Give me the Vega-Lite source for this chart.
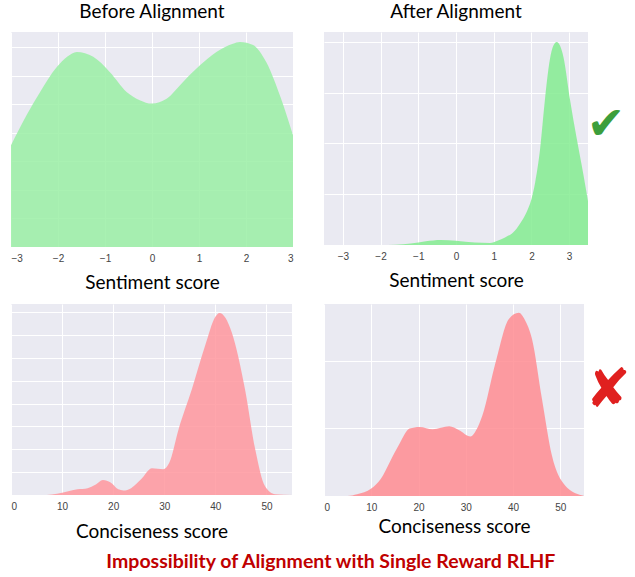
{
  "$schema": "https://vega.github.io/schema/vega-lite/v6.json",
  "padding": {"left": 11, "top": 3, "right": 5, "bottom": 5},
  "datasets": {
    "tl": [
      {"x": -3, "y": 3.57}, {"x": -2.67, "y": 4.62}, {"x": -2.38, "y": 5.44}, {"x": -2.03, "y": 6.3},
      {"x": -1.8, "y": 6.68}, {"x": -1.6, "y": 6.84}, {"x": -1.25, "y": 6.67}, {"x": -0.9, "y": 6.14},
      {"x": -0.54, "y": 5.44}, {"x": -0.26, "y": 5.15}, {"x": 0, "y": 5.03}, {"x": 0.31, "y": 5.2},
      {"x": 0.66, "y": 5.79}, {"x": 1.02, "y": 6.37}, {"x": 1.37, "y": 6.84}, {"x": 1.72, "y": 7.13},
      {"x": 1.87, "y": 7.19}, {"x": 2.15, "y": 7.08}, {"x": 2.43, "y": 6.49}, {"x": 2.72, "y": 5.32},
      {"x": 3, "y": 3.92}
    ],
    "tr": [
      {"x": -3.5, "y": 0}, {"x": -2, "y": 0}, {"x": -1.6, "y": 0.01}, {"x": -1.2, "y": 0.06},
      {"x": -0.8, "y": 0.15}, {"x": -0.4, "y": 0.2}, {"x": 0, "y": 0.17}, {"x": 0.5, "y": 0.1},
      {"x": 0.9, "y": 0.08}, {"x": 1.1, "y": 0.17}, {"x": 1.3, "y": 0.3}, {"x": 1.52, "y": 0.5},
      {"x": 1.7, "y": 0.85}, {"x": 1.87, "y": 1.29}, {"x": 2.0, "y": 1.8}, {"x": 2.1, "y": 2.47},
      {"x": 2.23, "y": 3.78}, {"x": 2.36, "y": 5.75}, {"x": 2.49, "y": 7.32}, {"x": 2.58, "y": 7.85},
      {"x": 2.67, "y": 8.0}, {"x": 2.76, "y": 7.85}, {"x": 2.85, "y": 7.4}, {"x": 3.02, "y": 5.75},
      {"x": 3.2, "y": 4.2}, {"x": 3.38, "y": 2.76}, {"x": 3.5, "y": 1.73}
    ],
    "bl": [
      {"x": 0, "y": 0}, {"x": 7, "y": 0}, {"x": 9, "y": 0.05}, {"x": 11, "y": 0.15}, {"x": 13, "y": 0.25},
      {"x": 15, "y": 0.3}, {"x": 16.5, "y": 0.45}, {"x": 18, "y": 0.66}, {"x": 19.5, "y": 0.55},
      {"x": 21, "y": 0.25}, {"x": 22, "y": 0.2}, {"x": 23.5, "y": 0.3}, {"x": 25.5, "y": 0.7},
      {"x": 27.6, "y": 1.17}, {"x": 29.8, "y": 1.13}, {"x": 31, "y": 1.42}, {"x": 32.8, "y": 2.88},
      {"x": 35.4, "y": 4.63}, {"x": 38, "y": 6.54}, {"x": 40, "y": 7.8}, {"x": 40.8, "y": 7.97},
      {"x": 42, "y": 7.75}, {"x": 43.2, "y": 7.12}, {"x": 45.8, "y": 4.63}, {"x": 47.8, "y": 2.0},
      {"x": 49.7, "y": 0.39}, {"x": 51.7, "y": 0.03}, {"x": 55, "y": 0}
    ],
    "br": [
      {"x": 0, "y": 0}, {"x": 5, "y": 0}, {"x": 7, "y": 0.05}, {"x": 10, "y": 0.22}, {"x": 12, "y": 0.5},
      {"x": 13.9, "y": 1.0}, {"x": 16, "y": 1.55}, {"x": 18.1, "y": 1.99}, {"x": 20.2, "y": 2.04},
      {"x": 23, "y": 1.97}, {"x": 26.5, "y": 2.06}, {"x": 28.5, "y": 1.95}, {"x": 31, "y": 1.76},
      {"x": 32.2, "y": 1.95}, {"x": 33.5, "y": 2.38}, {"x": 36.3, "y": 3.95}, {"x": 39.1, "y": 5.23},
      {"x": 41.2, "y": 5.41}, {"x": 42.5, "y": 5.2}, {"x": 44, "y": 4.64}, {"x": 46.1, "y": 2.87},
      {"x": 48.2, "y": 1.2}, {"x": 51, "y": 0.31}, {"x": 54.5, "y": 0.02}, {"x": 55, "y": 0}
    ],
    "check": [{"x": 3.98, "y": 4.72, "symbol": "✔"}],
    "cross": [{"x": 60.1, "y": 3.1, "symbol": "✘"}]
  },
  "title": {
    "text": "Impossibility of Alignment with Single Reward RLHF",
    "orient": "bottom",
    "anchor": "middle",
    "font": "Lato",
    "fontSize": 19.5,
    "fontWeight": "bold",
    "color": "#C00000",
    "offset": 12,
    "dx": 10
  },
  "vconcat": [
    {
      "hconcat": [
        {
          "width": 282,
          "height": 215,
          "title": {"text": "Before Alignment"},
          "data": {"name": "tl"},
          "mark": {"type": "area", "interpolate": "monotone", "fill": "#9AEFA4", "fillOpacity": 0.85},
          "encoding": {
            "x": {"field": "x", "type": "quantitative", "scale": {"domain": [-3, 3], "nice": false},
                  "axis": {"values": [-3, -2, -1, 0, 1, 2, 3], "title": "Sentiment score"}},
            "y": {"field": "y", "type": "quantitative", "scale": {"domain": [0, 7.54], "nice": false},
                  "axis": {"values": [0, 1, 2, 3, 4, 5, 6, 7], "labels": false, "title": null}}
          }
        },
        {
          "width": 264,
          "height": 213,
          "title": {"text": "After Alignment"},
          "layer": [
            {
              "data": {"name": "tr"},
              "mark": {"type": "area", "interpolate": "monotone", "fill": "#84EC90", "fillOpacity": 0.85},
              "encoding": {
                "x": {"field": "x", "type": "quantitative", "scale": {"domain": [-3.5, 3.5], "nice": false},
                      "axis": {"values": [-3, -2, -1, 0, 1, 2, 3], "title": "Sentiment score"}},
                "y": {"field": "y", "type": "quantitative", "scale": {"domain": [0, 8.39], "nice": false},
                      "axis": {"values": [0, 1, 2, 3, 4, 5, 6, 7, 8], "labels": false, "title": null}}
              }
            },
            {
              "data": {"name": "check"},
              "mark": {"type": "text", "font": "DejaVu Sans", "fontSize": 46, "color": "#3C9E3C", "baseline": "middle", "align": "center"},
              "encoding": {
                "x": {"field": "x", "type": "quantitative"},
                "y": {"field": "y", "type": "quantitative"},
                "text": {"field": "symbol"}
              }
            }
          ]
        }
      ],
      "spacing": 31,
      "bounds": "flush"
    },
    {
      "hconcat": [
        {
          "width": 281,
          "height": 191,
          "data": {"name": "bl"},
          "mark": {"type": "area", "interpolate": "monotone", "fill": "#FF969D", "fillOpacity": 0.85},
          "encoding": {
            "x": {"field": "x", "type": "quantitative", "scale": {"domain": [0, 55], "nice": false},
                  "axis": {"values": [0, 10, 20, 30, 40, 50], "title": "Conciseness score", "titlePadding": 11}},
            "y": {"field": "y", "type": "quantitative", "scale": {"domain": [0, 8.36], "nice": false},
                  "axis": {"values": [0, 1, 2, 3, 4, 5, 6, 7, 8], "labels": false, "title": null}}
          }
        },
        {
          "width": 260,
          "height": 192,
          "layer": [
            {
              "data": {"name": "br"},
              "mark": {"type": "area", "interpolate": "monotone", "fill": "#FF8C92", "fillOpacity": 0.85},
              "encoding": {
                "x": {"field": "x", "type": "quantitative", "scale": {"domain": [0, 55], "nice": false},
                      "axis": {"values": [0, 10, 20, 30, 40, 50], "title": "Conciseness score", "titlePadding": 5}},
                "y": {"field": "y", "type": "quantitative", "scale": {"domain": [0, 5.67], "nice": false},
                      "axis": {"values": [0, 1, 2, 3, 4, 5], "labels": false, "title": null}}
              }
            },
            {
              "data": {"name": "cross"},
              "mark": {"type": "text", "font": "DejaVu Sans", "fontSize": 54, "color": "#E0201F", "baseline": "middle", "align": "center"},
              "encoding": {
                "x": {"field": "x", "type": "quantitative"},
                "y": {"field": "y", "type": "quantitative"},
                "text": {"field": "symbol"}
              }
            }
          ]
        }
      ],
      "spacing": 32,
      "bounds": "flush"
    }
  ],
  "spacing": 12,
  "config": {
    "view": {"fill": "#EAEAF2", "stroke": null},
    "axis": {
      "grid": true,
      "gridColor": "#FFFFFF",
      "gridWidth": 1,
      "gridOpacity": 1,
      "domain": false,
      "ticks": false,
      "labelFont": "Liberation Sans",
      "labelFontSize": 10,
      "labelColor": "#444444",
      "labelPadding": 6,
      "titleFont": "Lato",
      "titleFontWeight": "normal",
      "titleFontSize": 19,
      "titleColor": "#000000",
      "titlePadding": 10
    },
    "title": {"font": "Lato", "fontSize": 19, "fontWeight": "normal", "color": "#000000", "offset": 10}
  }
}
